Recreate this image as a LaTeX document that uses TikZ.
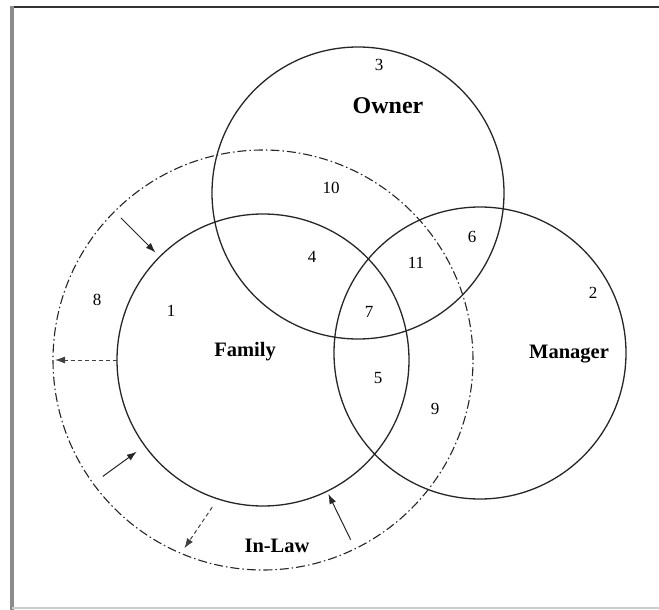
\documentclass[tikz,border=0pt]{standalone}
\usepackage{fontspec}
\setmainfont{Liberation Serif}
\usepackage{tikz}
\usetikzlibrary{arrows.meta}

\tikzset{
    ring/.style={draw, circle, inner sep=0pt, outer sep=0pt, line width=1.3pt, black!85, minimum size=292pt},
    num/.style={font=\fontsize{17}{19}\selectfont},
    lbl/.style={font=\fontsize{20.5}{23}\selectfont\bfseries},
    inward/.style={-{Latex[length=10pt,width=7pt]}, line width=1pt, black!85},
    outward/.style={-{Latex[length=10pt,width=7pt]}, line width=1pt, dash pattern=on 4pt off 3pt, black!75},
}

\begin{document}
\begin{tikzpicture}[x=1pt, y=-1pt]
    \useasboundingbox (0,0) rectangle (659,610);
    % frame
    \draw[black!80, line width=2pt] (10,7) -- (659,7);
    \draw[black!45, line width=3.5pt] (12,6) -- (12,610);
    \draw[black!20, line width=2pt] (12,608) -- (659,608);
    % circles
    \node[ring] (own) at (358,193) {};
    \node[ring] (fam) at (263,360) {};
    \node[ring] (man) at (480,353) {};
    \node[ring, minimum size=420pt, line width=1.1pt,
          dash pattern=on 9pt off 3pt on 1.5pt off 3pt] (inlaw) at (263,360) {};
    % arrows between family and in-law
    \draw[inward, shorten <=9pt, shorten >=6pt] (inlaw.135) -- (fam.135);
    \draw[inward, shorten <=12pt, shorten >=10pt] (inlaw.216) -- (fam.216);
    \draw[inward, shorten <=10pt, shorten >=3pt] (inlaw.-64) -- (fam.-64);
    \draw[outward, shorten >=2pt] (fam.180) -- (inlaw.180);
    \draw[outward, shorten <=10pt, shorten >=6pt] (fam.-108) -- (inlaw.-113);
    % texts
    \node[num] (n3) at (379,65) {3};
    \node[lbl, font=\fontsize{24}{27}\selectfont\bfseries] (lown) at (388,106) {Owner};
    \node[num] (n10) at (331,188) {10};
    \node[num] (n6) at (472,237) {6};
    \node[num] (n4) at (312,257) {4};
    \node[num] (n11) at (416,263) {11};
    \node[num] (n2) at (593,293) {2};
    \node[num] (n8) at (97,300) {8};
    \node[num] (n1) at (171,311) {1};
    \node[num] (n7) at (369,312) {7};
    \node[lbl] (lfam) at (245,352) {Family};
    \node[lbl] (lman) at (569,354) {Manager};
    \node[num] (n5) at (378,378) {5};
    \node[num] (n9) at (435,409) {9};
    \node[lbl] (lin) at (277,546) {In-Law};
\end{tikzpicture}
\end{document}
